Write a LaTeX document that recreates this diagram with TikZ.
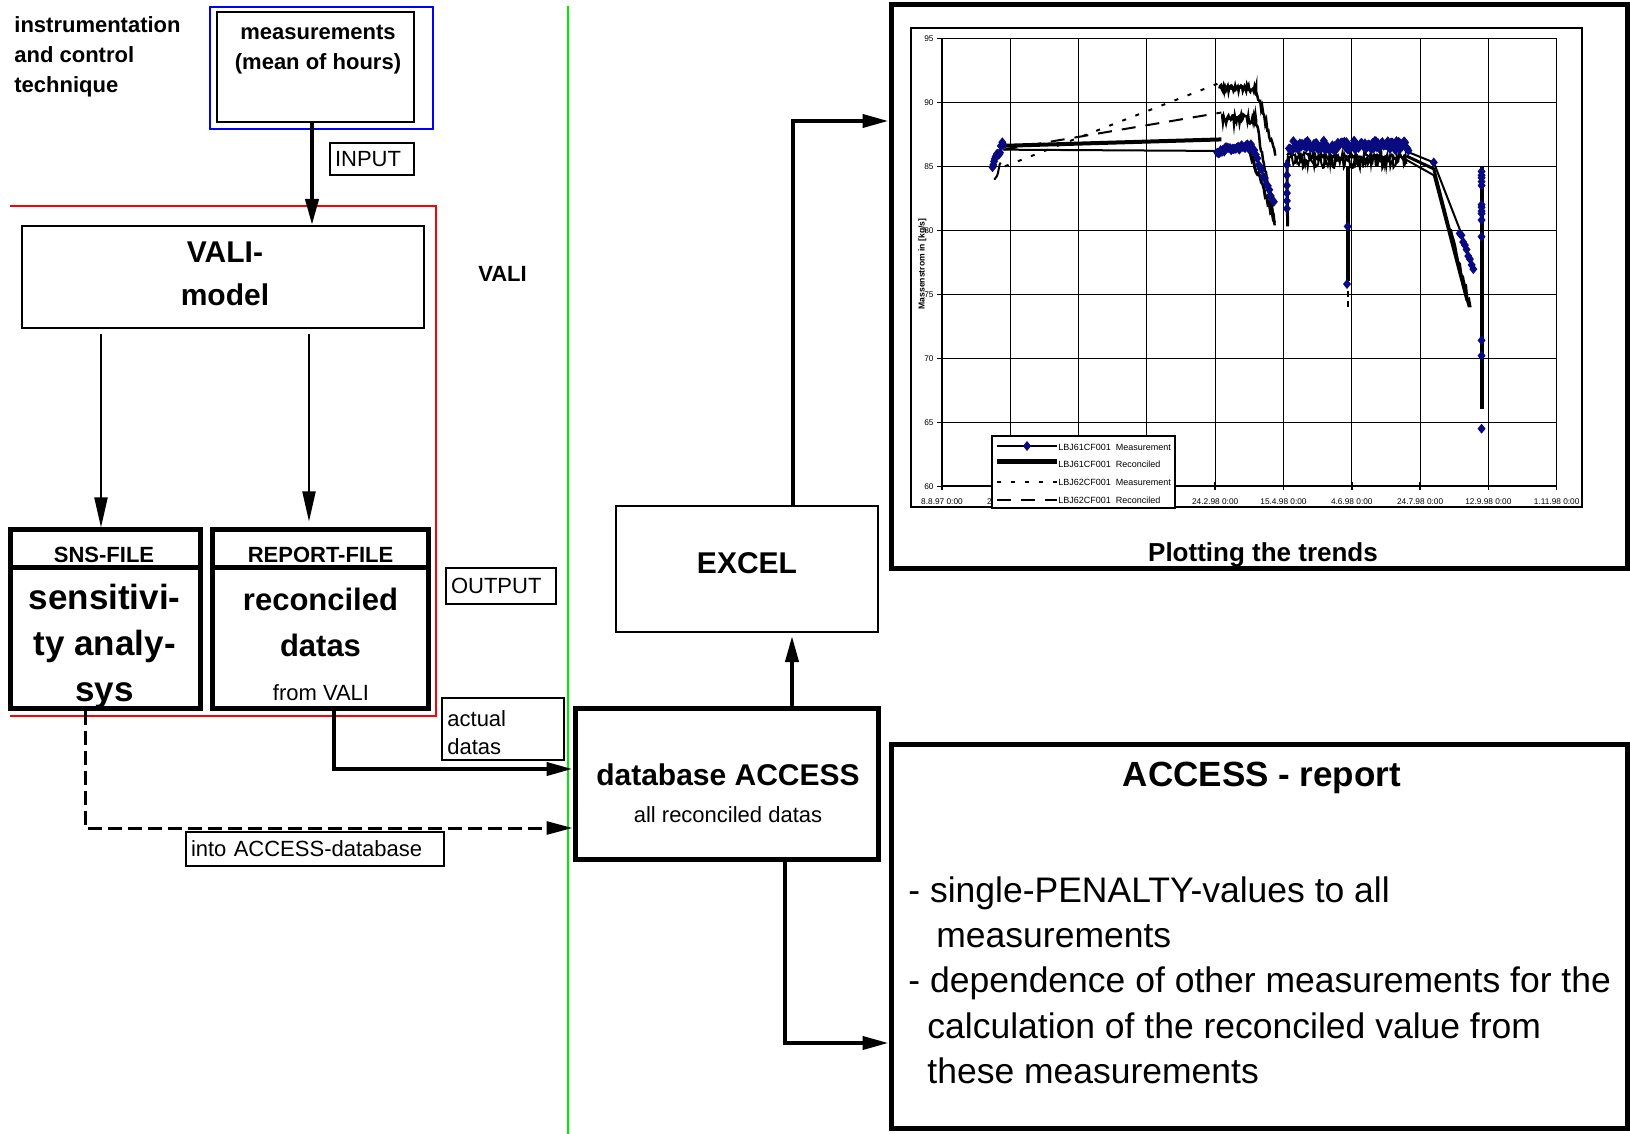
\documentclass[tikz,border=0pt]{standalone}
\usepackage{fontspec}
\setmainfont{Liberation Sans}
\usetikzlibrary{positioning,arrows.meta}
\definecolor{navy}{RGB}{10,10,128}
\definecolor{vgreen}{RGB}{0,235,0}
\tikzstyle{box}=[draw, line width=1pt, inner sep=0pt]
\tikzstyle{fatbox}=[draw, line width=2.5pt, inner sep=0pt]
\tikzstyle{tag}=[draw, line width=0.75pt, inner xsep=2.5pt, inner ysep=0pt, align=left, font=\fontsize{11}{14}\selectfont]
\tikzstyle{txt}=[inner sep=0pt, font=\fontsize{11}{14}\selectfont]
\tikzstyle{bf}=[inner sep=0pt, font=\bfseries\fontsize{11}{15}\selectfont]
\tikzstyle{big}=[inner sep=0pt, align=center, font=\bfseries\fontsize{15}{21.5}\selectfont]
\tikzstyle{body}=[inner sep=0pt, anchor=base west, font=\fontsize{17.75}{23}\selectfont]
\tikzstyle{thinarrow}=[line width=1pt, -{Triangle[length=15pt,width=6.5pt]}]
\tikzstyle{fatarrow}=[line width=2pt, -{Triangle[length=13pt,width=6.5pt]}]
\tikzstyle{dasharrow}=[fatarrow, line width=1.5pt, dash pattern=on 7pt off 3pt]
\tikzstyle{gridline}=[line width=0.5pt]
\tikzstyle{ticklbl}=[inner sep=0pt, font=\fontsize{4.15}{5}\selectfont]
\tikzstyle{leglbl}=[inner sep=0pt, anchor=west, font=\fontsize{4.5}{5}\selectfont]
\newcommand{\mdot}[1]{\fill[navy] (#1) +(0pt,2.5pt) -- +(2pt,0pt) -- +(0pt,-2.5pt) -- +(-2pt,0pt) -- cycle;}

\begin{document}
\begin{tikzpicture}[x=0.5pt,y=-0.5pt]
\useasboundingbox (0,0) rectangle (1630,1134);
\pgfmathsetseed{11}

% instrumentation and control technique
\node[bf, anchor=west, align=left] (instr) at (14,56.4) {instrumentation\\and control\\technique};
\node[draw=blue, line width=0.75pt, minimum width=111.5pt, minimum height=61pt] (icframe) at (321.5,68) {};
\node[box, minimum width=98.5pt, minimum height=55pt] (meas) at (315.5,67) {};
\node[bf, align=center] (meastxt) at (318,50) {measurements\\(mean of hours)};
\node[tag, text width=37pt, minimum height=16pt] (input) at (372,159) {INPUT};

% VALI region
\draw[red, line width=0.75pt] (10,206) -- (436,206) -- (436,716) -- (10,716);
\node[box, minimum width=201pt, minimum height=51pt] (vali) at (223,277) {};
\node[big] (valitxt) at (225,274) {VALI-\\model};
\node[bf, anchor=base] (valilbl) at (502.5,282) {VALI};

\node[fatbox, minimum width=95pt, minimum height=19pt] (snshead) at (105,549) {};
\node[fatbox, minimum width=95pt, minimum height=70pt, below=-2.5pt of snshead] (sns) {};
\node[bf, anchor=base] (snshtxt) at (104,562) {SNS-FILE};
\node[big, font=\bfseries\fontsize{17.5}{23}\selectfont] (snstxt) at (104.7,646) {sensitivi-\\ty analy-\\sys};

\node[fatbox, minimum width=108pt, minimum height=19pt] (rephead) at (320,549) {};
\node[fatbox, minimum width=108pt, minimum height=70pt, below=-2.5pt of rephead] (rep) {};
\node[bf, anchor=base] (rephtxt) at (320.5,562) {REPORT-FILE};
\node[big, font=\bfseries\fontsize{15.5}{23}\selectfont] (reptxt) at (320.5,622) {reconciled\\datas};
\node[txt, anchor=base] (repsrc) at (321,700) {from VALI};

\node[tag, text width=50pt, minimum height=18pt] (output) at (501,586) {OUTPUT};
\node[draw, line width=0.75pt, minimum width=61pt, minimum height=31pt] (actbox) at (503,729) {};
\node[txt, anchor=west, align=left] (acttxt) at (447,733) {actual\\datas};
\node[tag, text width=124pt, minimum height=17pt] (into) at (315,849) {into ACCESS-database};

\draw[vgreen, line width=0.75pt] (568,6) -- (568,1134);

% database and EXCEL
\node[box, minimum width=131pt, minimum height=63pt] (excel) at (747,569) {};
\node[big, anchor=base] (exceltxt) at (747,574) {EXCEL};
\node[fatbox, minimum width=151.5pt, minimum height=75.5pt] (db) at (726.5,783.5) {};
\node[big, anchor=base] (dbtxt) at (728,785) {database ACCESS};
\node[txt, anchor=base] (dbsub) at (728,822) {all reconciled datas};

% trend chart
\node[fatbox, minimum width=368pt, minimum height=282pt] (chart) at (1259,287) {};
\node[box, minimum width=335.5pt, minimum height=239.5pt] (area) at (1246.5,267.5) {};
\node[inner sep=0pt, anchor=base, font=\bfseries\fontsize{13}{15}\selectfont] (charttitle) at (1263,561) {Plotting the trends};
\node[inner sep=0pt, rotate=90, font=\bfseries\fontsize{4.3}{5}\selectfont] (ytitle) at (922.5,264) {Massenstrom in [kg/s]};

\begin{scope}[shift={(942,1254.3)}, x=34.15pt, y=6.4pt]
  \foreach \g in {1,...,9} {\draw[gridline] (\g,60) -- (\g,95);}
  \foreach \v in {65,70,...,95} {\draw[gridline] (0,\v) -- (9,\v);}
  \draw[line width=1pt] (0,95) -- (0,60) -- (9,60);
  \foreach \v in {60,65,...,95}{
    \draw[line width=0.75pt] ([xshift=-2.5pt]0,\v) -- (0,\v);
    \node[ticklbl, anchor=east] at ([xshift=-4pt]0,\v) {\v};
  }
  \foreach \g in {0,...,9} {\draw[line width=0.75pt] ([yshift=2pt]\g,60) -- ([yshift=-2pt]\g,60);}
  \foreach \g/\d in {0/8.8.97,1/27.9.97,4/24.2.98,5/15.4.98,6/4.6.98,7/24.7.98,8/12.9.98,9/1.11.98}
    {\node[ticklbl] at ([yshift=-7.5pt]\g,60) {\d\ 0:00};}

  % LBJ62 series and reconciled values
  \draw[line width=2pt] (0.9,86.6) -- (4.09,87.1);
  \draw[line width=1pt] (0.9,86.3) -- (4.03,86.2);
  \draw[line width=1pt, dash pattern=on 2pt off 5pt] (0.92,85.0) -- (4.06,91.5);
  \draw[line width=1pt, dash pattern=on 7pt off 5pt] (0.9,86.3) -- (4.09,89.2);
  \draw[line width=1pt] plot[domain=0.76:0.86, samples=8] (\x,{85-(0.86-\x)*10+0.4*rand});
  \draw[line width=1.25pt] plot[domain=4.06:4.6, samples=45] (\x,{91.1+0.3*rand})
    -- plot[domain=4.6:4.88, samples=20] (\x,{91-(\x-4.6)*18+0.3*rand});
  \draw[line width=1.25pt] plot[domain=4.09:4.6, samples=45] (\x,{88.7+0.35*rand})
    -- plot[domain=4.6:4.87, samples=20] (\x,{88.5-(\x-4.6)*29.6+0.3*rand});
  \draw[line width=1.5pt] plot[domain=4.5:4.87, samples=20] (\x,{86.3-(\x-4.5)*15+0.3*rand});
  \draw[line width=1.5pt] (5.05,85.5) -- (5.06,80.3);
  \draw[line width=1pt] plot[domain=5.05:6.8, samples=150] (\x,{85.4+0.55*rand});
  \draw[line width=1pt] plot[domain=5.05:6.8, samples=120] (\x,{85.8+0.3*rand});
  \draw[line width=2pt] (5.94,85) -- (5.94,76);
  \draw[line width=1pt, dash pattern=on 3pt off 2pt] (5.94,76) -- (5.94,73.7);
  \draw[line width=1pt] (6.83,86.1) -- (7.2,85.3) -- (7.6,79.8) -- (7.78,77);
  \draw[line width=1.5pt] (6.8,85.8) -- (7.2,84.8) -- (7.72,74.0);
  \draw[line width=1pt] (6.8,85.5) -- (7.2,84.3) -- (7.68,74.5);
  \draw[line width=1pt] plot[domain=7.45:7.74, samples=14] (\x,{84.6-(\x-7.2)*19.5+0.5*rand});
  \draw[line width=2pt] (7.9,85) -- (7.9,66);

  % LBJ61 measurements
  \foreach \i in {0,...,14} {\mdot{{0.74+0.011*\i},{85.1+0.12*\i+0.25*rand}}}
  \foreach \i in {0,...,30} {\mdot{{4.03+0.017*\i},{86.2+0.4*\i/30+0.2*rand}}}
  \foreach \i in {0,...,14} {\mdot{{4.55+0.022*\i},{86.4-0.3*\i+0.2*rand}}}
  \foreach \v in {81.7,82.3,82.9,83.5,84.3,85.1} {\mdot{5.05,\v}}
  \foreach \i in {0,...,110} {\mdot{{5.08+0.0159*\i},{86.6+0.4*rand}}}
  \mdot{5.94,80.3} \mdot{5.93,75.8} \mdot{7.2,85.3}
  \foreach \i in {0,...,8} {\mdot{{7.58+0.025*\i},{79.8-0.33*\i+0.2*rand}}}
  \foreach \v in {84.6,84.3,84.1,83.8,83.5,82.0,81.8,81.5,81.3,80.8,79.5,71.4,70.2,64.5} {\mdot{7.9,\v}}
\end{scope}

% legend of the chart
\node[box, fill=white, minimum width=91.5pt, minimum height=36pt] (legend) at (1083.5,472) {};
\draw[line width=1pt] (997,446) -- (1057,446);
\mdot{1027,446}
\draw[line width=2.5pt] (997,462) -- (1057,462);
\draw[line width=1pt, dash pattern=on 2pt off 5pt] (997,482) -- (1057,482);
\draw[line width=1pt, dash pattern=on 7pt off 5pt] (997,500) -- (1057,500);
\node[leglbl] (leg1) at (1058,447) {LBJ61CF001\ \ Measurement};
\node[leglbl] (leg2) at (1058,464) {LBJ61CF001\ \ Reconciled};
\node[leglbl] (leg3) at (1058,482) {LBJ62CF001\ \ Measurement};
\node[leglbl] (leg4) at (1058,500) {LBJ62CF001\ \ Reconciled};

% ACCESS report
\node[fatbox, minimum width=368pt, minimum height=192pt] (report) at (1259,936) {};
\node[inner sep=0pt, anchor=base, font=\bfseries\fontsize{17.5}{20}\selectfont] (reporthead) at (1262,786) {ACCESS - report};
\node[body] (r1) at (908,902) {- single-PENALTY-values to all};
\node[body] (r2) at (936,947) {measurements};
\node[body] (r3) at (908,992) {- dependence of other measurements for the};
\node[body] (r4) at (927,1038) {calculation of the reconciled value from};
\node[body] (r5) at (927,1083) {these measurements};

% connectors
\draw[fatarrow] ([xshift=-1.75pt]meas.south) -- ([xshift=-1.75pt]meas.south |- vali.north);
\draw[thinarrow, shorten <=2.5pt] ([xshift=-2pt]snshead.north |- vali.south) -- ([xshift=-2pt]snshead.north);
\draw[thinarrow, shorten <=2.5pt, shorten >=3pt] ([xshift=-5.5pt]rephead.north |- vali.south) -- ([xshift=-5.5pt]rephead.north);
\draw[fatarrow] ([xshift=7pt]rep.south) |- ([yshift=7.25pt]db.west);
\draw[dasharrow] ([xshift=-10pt]sns.south) |- ([yshift=-22.25pt]db.west);
\draw[fatarrow, shorten >=1.5pt] ([xshift=32.75pt]db.north) -- ([xshift=32.75pt]db.north |- excel.south);
\draw[fatarrow] ([xshift=23pt]excel.north) |- ([yshift=83pt]chart.west);
\draw[fatarrow] ([xshift=29.25pt]db.south) |- ([yshift=-53.5pt]report.west);
\end{tikzpicture}
\end{document}
